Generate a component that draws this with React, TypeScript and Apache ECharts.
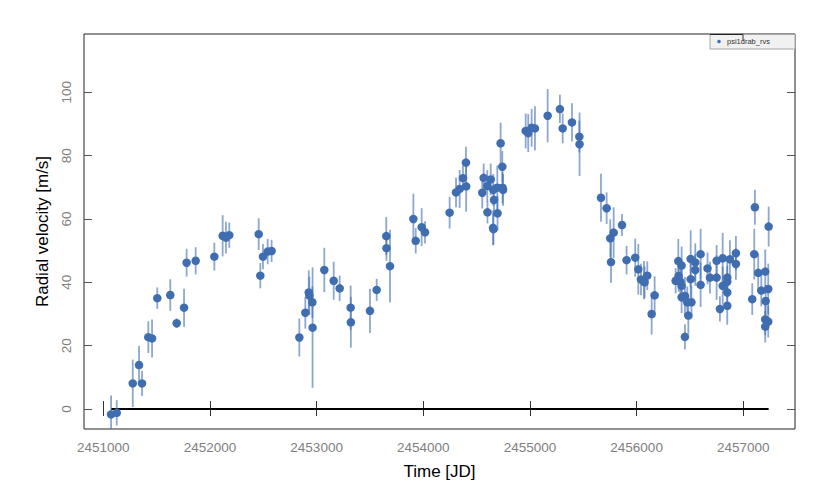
import React, { useEffect, useRef } from "react";
import * as echarts from "echarts";

// Observation times [JD]
const TIMES = [
  2451073, 2451126, 2451276, 2451335, 2451363, 2451422, 2451457, 2451506, 2451628, 2451688,
  2451757, 2451781, 2451866, 2452041, 2452119, 2452150, 2452181, 2452457, 2452472, 2452497,
  2452541, 2452578, 2452838, 2452894, 2452926, 2452932, 2452960, 2452962, 2453072, 2453160,
  2453216, 2453319, 2453321, 2453500, 2453563, 2453653, 2453655, 2453688, 2453907, 2453929,
  2453985, 2454016, 2454247, 2454307, 2454341, 2454372, 2454400, 2454402, 2454553, 2454566,
  2454600, 2454602, 2454632, 2454656, 2454663, 2454654, 2454658, 2454694, 2454696, 2454725,
  2454741, 2454743, 2454748, 2454960, 2454984, 2455016, 2455047, 2455166, 2455281, 2455307,
  2455394, 2455463, 2455465, 2455666, 2455719, 2455753, 2455785, 2455760, 2455863, 2455906,
  2455987, 2456016, 2456041, 2456069, 2456075, 2456100, 2456141, 2456169, 2456366, 2456391,
  2456394, 2456410, 2456422, 2456422, 2456422, 2456453, 2456453, 2456475, 2456485, 2456507,
  2456507, 2456514, 2456550, 2456550, 2456600, 2456600, 2456665, 2456688, 2456750, 2456750,
  2456781, 2456807, 2456807, 2456850, 2456850, 2456850, 2456850, 2456875, 2456931, 2456931,
  2457109, 2457103, 2457084, 2457140, 2457206, 2457169, 2457210, 2457206, 2457206, 2457234,
  2457234, 2457238,
];

// Radial velocities [m/s]
const RVS = [
  -1.7, -1.2, 8.1, 13.9, 8.1, 22.7, 22.3, 35.0, 36.0, 27.1,
  32.0, 46.2, 46.8, 48.1, 54.7, 54.1, 54.9, 55.2, 42.1, 48.1,
  49.7, 49.9, 22.6, 30.4, 36.8, 35.8, 33.7, 25.7, 43.9, 40.5,
  38.1, 32.0, 27.4, 31.0, 37.6, 54.6, 50.8, 45.1, 60.0, 53.1,
  57.4, 55.8, 62.0, 68.4, 69.5, 72.9, 77.8, 70.3, 68.3, 73.0,
  70.4, 62.1, 72.5, 69.2, 66.0, 57.2, 56.8, 69.9, 61.8, 83.9,
  76.5, 69.9, 69.2, 87.8, 87.1, 88.8, 88.6, 92.6, 94.7, 88.6,
  90.5, 86.0, 83.6, 66.7, 63.4, 53.9, 55.7, 46.4, 58.1, 47.0,
  47.8, 44.1, 40.9, 40.7, 40.0, 42.1, 30.0, 35.9, 40.5, 46.7,
  42.0, 40.2, 45.3, 38.9, 35.3, 35.7, 22.8, 33.7, 29.5, 47.4,
  41.0, 33.7, 46.3, 43.9, 48.9, 39.2, 44.4, 41.5, 46.8, 41.5,
  31.6, 47.6, 38.9, 41.5, 40.2, 36.8, 32.6, 47.3, 49.2, 45.8,
  63.7, 48.9, 34.7, 43.0, 43.4, 37.4, 34.1, 28.3, 26.0, 27.6,
  37.9, 57.6,
];

// Uncertainties [m/s]
const ERRS = [
  6, 4, 7.5, 6, 4, 5, 6, 3.4, 5, 1.5,
  6, 4.4, 4.3, 4.4, 6.5, 5, 4, 5, 4, 4,
  4, 3.5, 6, 5, 7, 6, 5, 19, 7, 6,
  4, 7, 8, 7, 3.5, 6, 4, 11.5, 8, 4,
  6, 3.5, 5, 4.7, 6, 4, 5, 8, 5, 4.5,
  5, 3.5, 5, 5, 5, 5.5, 5, 7, 5.5, 6.5,
  5, 5, 5, 5.5, 6, 6, 7, 8.4, 4.5, 4.7,
  6, 5, 10, 7.6, 5, 6, 8, 6.5, 3.5, 4.5,
  6, 8, 5, 6, 5, 4.5, 6.5, 6, 4, 7,
  5, 5, 6, 5, 5, 6, 4, 5, 6, 9,
  6, 5, 6, 5, 8, 7, 5, 5, 5, 7,
  4, 8, 6, 5, 5, 5, 6, 6, 5.4, 5,
  5.5, 8, 5, 6, 7, 5, 5, 5, 5, 5,
  8, 6.3,
];

const X_TICKS = [2451000, 2452000, 2453000, 2454000, 2455000, 2456000, 2457000];
const Y_TICKS = [0, 20, 40, 60, 80, 100];
const SERIES_NAME = "psi1drab_rvs";

const FONT = "Liberation Sans, Arial, Helvetica, sans-serif";
const POINT_COLOR = "#3f6db0";
const BAR_COLOR = "rgba(63,109,176,0.6)";

export default function App() {
  const ref = useRef<HTMLDivElement>(null);

  useEffect(() => {
    if (!ref.current) return;
    const chart = echarts.init(ref.current, undefined, { renderer: "svg" });

    const X_MIN = 2450819;
    const X_MAX = 2457485;
    const Y_MIN = -6.3;
    const Y_MAX = 118.4;

    const tMin = Math.min(...TIMES);
    const tMax = Math.max(...TIMES);

    const xCommon = {
      type: "value" as const,
      min: X_MIN,
      max: X_MAX,
      axisLine: { show: false },
      splitLine: { show: false },
    };
    const yCommon = {
      type: "value" as const,
      min: Y_MIN,
      max: Y_MAX,
      axisLine: { show: false },
      splitLine: { show: false },
    };

    chart.setOption({
      animation: false,
      backgroundColor: "#ffffff",
      grid: {
        left: 84,
        right: 35,
        top: 34,
        bottom: 69,
        show: true,
        borderColor: "#222",
        borderWidth: 1,
        backgroundColor: "transparent",
      },
      xAxis: [
        {
          ...xCommon,
          position: "bottom",
          axisTick: {
            show: true,
            inside: true,
            length: 8,
            customValues: X_TICKS,
            lineStyle: { color: "#333", width: 1 },
          },
          axisLabel: {
            customValues: X_TICKS,
            formatter: (v: number) => String(Math.round(v)),
            color: "#808080",
            fontSize: 13.5,
            fontFamily: FONT,
            margin: 11,
          },
          name: "Time [JD]",
          nameLocation: "middle",
          nameGap: 34,
          nameTextStyle: { fontSize: 17, color: "#000", fontFamily: FONT },
        },
        {
          ...xCommon,
          position: "top",
          axisTick: {
            show: true,
            inside: true,
            length: 7,
            customValues: X_TICKS,
            lineStyle: { color: "#333", width: 1 },
          },
          axisLabel: { show: false },
        },
      ],
      yAxis: [
        {
          ...yCommon,
          position: "left",
          axisTick: {
            show: true,
            inside: true,
            length: 8,
            customValues: Y_TICKS,
            lineStyle: { color: "#555", width: 1 },
          },
          axisLabel: {
            customValues: Y_TICKS,
            formatter: (v: number) => String(Math.round(v)),
            rotate: 90,
            color: "#808080",
            fontSize: 13.5,
            fontFamily: FONT,
            margin: 11,
          },
          name: "Radial velocity [m/s]",
          nameLocation: "middle",
          nameGap: 31,
          nameTextStyle: { fontSize: 17, color: "#000", fontFamily: FONT },
        },
        {
          ...yCommon,
          position: "right",
          axisTick: {
            show: true,
            inside: true,
            length: 8,
            customValues: Y_TICKS,
            lineStyle: { color: "#555", width: 1 },
          },
          axisLabel: { show: false },
        },
      ],
      series: [
        {
          name: "zero",
          type: "custom",
          xAxisIndex: 0,
          yAxisIndex: 0,
          silent: true,
          z: 1,
          data: [[tMin, tMax]],
          encode: { x: [0, 1] },
          renderItem: (_params: any, api: any) => {
            const a = api.coord([api.value(0), 0]);
            const b = api.coord([api.value(1), 0]);
            return {
              type: "line",
              shape: { x1: a[0], y1: a[1], x2: b[0], y2: b[1] },
              style: { stroke: "#000", lineWidth: 2 },
            };
          },
        },
        {
          name: "errors",
          type: "custom",
          xAxisIndex: 0,
          yAxisIndex: 0,
          clip: true,
          z: 2,
          silent: true,
          data: TIMES.map((t, i) => [t, RVS[i], ERRS[i]]),
          encode: { x: 0, y: 1 },
          renderItem: (_params: any, api: any) => {
            const x = api.value(0);
            const y = api.value(1);
            const e = api.value(2);
            const p1 = api.coord([x, y + e]);
            const p2 = api.coord([x, y - e]);
            return {
              type: "line",
              shape: { x1: p1[0], y1: p1[1], x2: p2[0], y2: p2[1] },
              style: { stroke: BAR_COLOR, lineWidth: 1.8 },
            };
          },
        },
        {
          name: SERIES_NAME,
          type: "scatter",
          xAxisIndex: 0,
          yAxisIndex: 0,
          data: TIMES.map((t, i) => [t, RVS[i]]),
          symbol: "circle",
          symbolSize: 8.5,
          itemStyle: { color: POINT_COLOR, opacity: 1 },
          z: 3,
        },
      ],
      graphic: [
        {
          type: "rect",
          z: 100,
          shape: { x: 710, y: 34.5, width: 85, height: 14.5 },
          style: { fill: "#f1f1f1", stroke: "#a8a8a8", lineWidth: 1 },
        },
        {
          type: "line",
          z: 101,
          shape: { x1: 710, y1: 34.5, x2: 743, y2: 34.5 },
          style: { stroke: "#222", lineWidth: 1 },
        },
        {
          type: "line",
          z: 101,
          shape: { x1: 743, y1: 34.5, x2: 743, y2: 41 },
          style: { stroke: "#333", lineWidth: 1 },
        },
        {
          type: "circle",
          z: 101,
          shape: { cx: 719, cy: 41.5, r: 1.8 },
          style: { fill: POINT_COLOR },
        },
        {
          type: "text",
          z: 102,
          x: 727,
          y: 41.8,
          style: {
            text: SERIES_NAME,
            fill: "#333",
            fontSize: 7.5,
            fontFamily: FONT,
            verticalAlign: "middle",
            align: "left",
          },
        },
      ],
    });

    return () => {
      chart.dispose();
    };
  }, []);

  return (
    <div
      ref={ref}
      style={{ position: "absolute", left: 0, top: 0, width: 830, height: 498 }}
    />
  );
}
